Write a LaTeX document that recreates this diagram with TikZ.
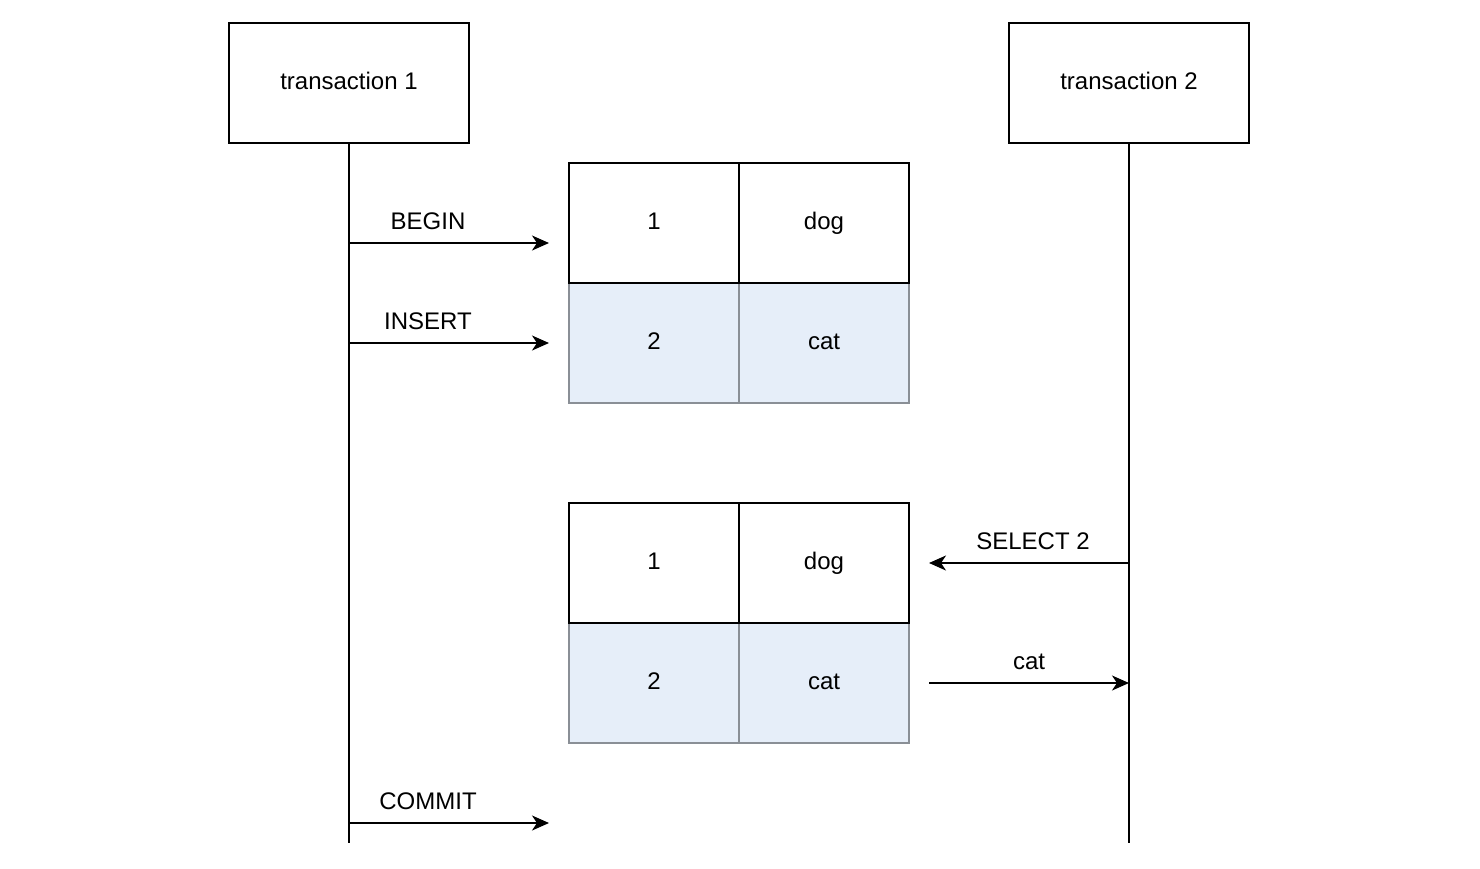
\documentclass[tikz,border=0pt]{standalone}
\usepackage{fontspec}
\setmainfont{Liberation Sans}
\usetikzlibrary{arrows.meta}
\definecolor{rowblue}{HTML}{E6EEF9}
\definecolor{rowedge}{HTML}{8A8F96}
\begin{document}
\begin{tikzpicture}[x=1pt,y=-1pt,
  every node/.style={font=\fontsize{24}{27}\selectfont, inner sep=0pt},
  boxed/.style={text height=17pt, text depth=5pt},
  actor/.style={boxed, draw=black, line width=2pt, minimum width=240pt, minimum height=120pt, fill=white},
  cellw/.style={boxed, draw=black, line width=2pt, minimum width=170pt, minimum height=120pt, fill=white},
  cellb/.style={boxed, draw=rowedge, line width=2pt, minimum width=170pt, minimum height=120pt, fill=rowblue},
  life/.style={line width=2pt},
  msg/.style={line width=2pt, -{Stealth[length=17pt, width=15pt, inset=5pt]}},
  lbl/.style={anchor=base}]
\useasboundingbox (0,0) rectangle (1480,868);
% actors
\node[actor] (t1) at (349,83) {transaction 1};
\node[actor] (t2) at (1129,83) {transaction 2};
\coordinate (t1end) at (349,843);
\coordinate (t2end) at (1129,843);
\draw[life] (t1.south) -- (t1end);
\draw[life] (t2.south) -- (t2end);
% table 1
\node[cellb] (a21) at (654,343) {2};
\node[cellb] (a22) at (824,343) {cat};
\node[cellw] (a11) at (654,223) {1};
\node[cellw] (a12) at (824,223) {dog};
% table 2
\node[cellb] (b21) at (654,683) {2};
\node[cellb] (b22) at (824,683) {cat};
\node[cellw] (b11) at (654,563) {1};
\node[cellw] (b12) at (824,563) {dog};
% message anchors
\coordinate (m1s) at (349,243); \coordinate (m1e) at (549,243);
\coordinate (m2s) at (349,343); \coordinate (m2e) at (549,343);
\coordinate (m3s) at (349,823); \coordinate (m3e) at (549,823);
\coordinate (m4s) at (1129,563); \coordinate (m4e) at (929,563);
\coordinate (m5s) at (929,683); \coordinate (m5e) at (1129,683);
\draw[msg] (m1s) -- (m1e);
\draw[msg] (m2s) -- (m2e);
\draw[msg] (m3s) -- (m3e);
\draw[msg] (m4s) -- (m4e);
\draw[msg] (m5s) -- (m5e);
\node[lbl] (l1) at (428,229) {BEGIN};
\node[lbl] (l2) at (428,329) {INSERT};
\node[lbl] (l3) at (428,809) {COMMIT};
\node[lbl] (l4) at (1033,549) {SELECT 2};
\node[lbl] (l5) at (1029,669) {cat};
\end{tikzpicture}
\end{document}
